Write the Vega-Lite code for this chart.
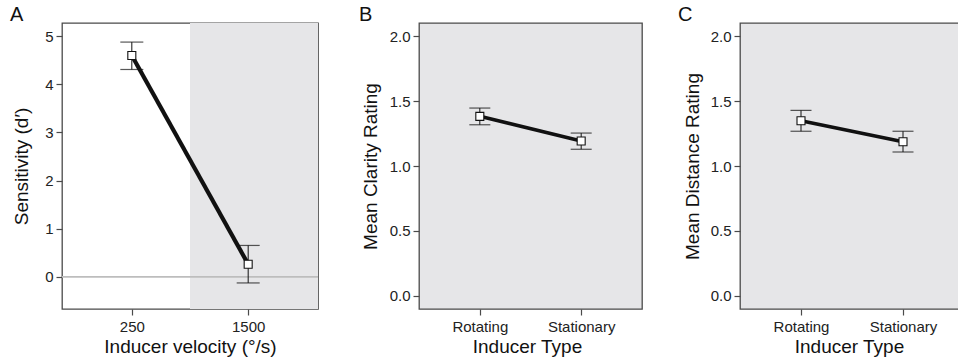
{
  "$schema": "https://vega.github.io/schema/vega-lite/v6.json",
  "padding": {"left": 9, "top": 4, "right": 0, "bottom": 0},
  "background": "white",
  "bounds": "flush",
  "spacing": 101,
  "config": {
    "font": "Liberation Sans",
    "view": {"stroke": "#4a4a4a", "strokeWidth": 1.3},
    "axis": {
      "grid": false,
      "domain": false,
      "tickColor": "#4a4a4a",
      "tickWidth": 1.2,
      "labelFont": "Liberation Sans",
      "labelFontSize": 15,
      "labelColor": "#222222",
      "titleFont": "Liberation Sans",
      "titleFontSize": 19,
      "titleFontWeight": "normal",
      "titleColor": "#111111"
    },
    "axisX": {"labelAngle": 0, "titlePadding": 3, "tickSize": 6, "labelPadding": 4},
    "axisY": {"tickSize": 6, "labelPadding": 3},
    "title": {"fontSize": 20, "fontWeight": "normal", "anchor": "start", "frame": "group", "color": "#111111", "font": "Liberation Sans"}
  },
  "datasets": {
    "a": [
      {"velocity": "250", "dprime": 4.6, "lo": 4.31, "hi": 4.88},
      {"velocity": "1500", "dprime": 0.26, "lo": -0.13, "hi": 0.65}
    ],
    "b": [
      {"type": "Rotating", "rating": 1.383, "lo": 1.318, "hi": 1.447},
      {"type": "Stationary", "rating": 1.193, "lo": 1.129, "hi": 1.254}
    ],
    "c": [
      {"type": "Rotating", "rating": 1.349, "lo": 1.268, "hi": 1.429},
      {"type": "Stationary", "rating": 1.187, "lo": 1.108, "hi": 1.268}
    ]
  },
  "hconcat": [
    {
      "width": 256,
      "height": 286,
      "title": {"text": "A", "dx": -52, "offset": -2},
      "data": {"name": "a"},
      "resolve": {"scale": {"x": "independent"}},
      "layer": [
        {
          "transform": [{"filter": "datum.velocity == '1500'"}],
          "mark": {"type": "rect", "color": "#e6e6e8"},
          "encoding": {
            "x": {"field": "velocity", "type": "nominal", "axis": null,
                  "scale": {"type": "band", "domain": ["250", "1500"], "paddingInner": 0, "paddingOuter": 0}}
          }
        },
        {
          "encoding": {
            "x": {"field": "velocity", "type": "ordinal",
                  "scale": {"type": "point", "domain": ["250", "1500"], "padding": 0.6},
                  "axis": {"title": "Inducer velocity (°/s)"}}
          },
          "layer": [
            {
              "mark": {"type": "rule", "color": "#bdbdbd", "strokeWidth": 1.6},
              "encoding": {"x": null, "y": {"datum": 0, "type": "quantitative"}}
            },
            {
              "mark": {"type": "line", "color": "#111111", "strokeWidth": 4.2},
              "encoding": {
                "y": {"field": "dprime", "type": "quantitative",
                      "scale": {"domain": [-0.672, 5.277], "nice": false, "zero": false},
                      "axis": {"values": [0, 1, 2, 3, 4, 5], "title": "Sensitivity (d′)", "titlePadding": 13}}
              }
            },
            {
              "mark": {"type": "rule", "color": "#111111", "strokeWidth": 1},
              "encoding": {"y": {"field": "lo", "type": "quantitative"}, "y2": {"field": "hi"}}
            },
            {
              "mark": {"type": "tick", "color": "#111111", "thickness": 1.2, "size": 23, "orient": "horizontal"},
              "encoding": {"y": {"field": "lo", "type": "quantitative"}}
            },
            {
              "mark": {"type": "tick", "color": "#111111", "thickness": 1.2, "size": 23, "orient": "horizontal"},
              "encoding": {"y": {"field": "hi", "type": "quantitative"}}
            },
            {
              "mark": {"type": "point", "shape": "square", "filled": true, "fill": "white", "stroke": "#111111", "strokeWidth": 1.1, "size": 64, "opacity": 1},
              "encoding": {"y": {"field": "dprime", "type": "quantitative"}}
            }
          ]
        }
      ]
    },
    {
      "bounds": "flush",
      "spacing": 98,
      "hconcat": [
        {
          "width": 223,
          "height": 286,
          "view": {"fill": "#e6e6e8"},
          "title": {"text": "B", "dx": -60, "offset": -2},
          "data": {"name": "b"},
          "encoding": {
            "x": {"field": "type", "type": "ordinal",
                  "scale": {"type": "point", "domain": ["Rotating", "Stationary"], "padding": 0.6},
                  "axis": {"title": "Inducer Type", "titleX": 108}}
          },
          "layer": [
            {
              "mark": {"type": "line", "color": "#111111", "strokeWidth": 3.6},
              "encoding": {
                "y": {"field": "rating", "type": "quantitative",
                      "scale": {"domain": [-0.103, 2.103], "nice": false, "zero": false},
                      "axis": {"values": [0, 0.5, 1, 1.5, 2], "format": ".1f", "title": "Mean Clarity Rating", "titlePadding": 9}}
              }
            },
            {
              "mark": {"type": "rule", "color": "#111111", "strokeWidth": 1},
              "encoding": {"y": {"field": "lo", "type": "quantitative"}, "y2": {"field": "hi"}}
            },
            {
              "mark": {"type": "tick", "color": "#111111", "thickness": 1.2, "size": 21, "orient": "horizontal"},
              "encoding": {"y": {"field": "lo", "type": "quantitative"}}
            },
            {
              "mark": {"type": "tick", "color": "#111111", "thickness": 1.2, "size": 21, "orient": "horizontal"},
              "encoding": {"y": {"field": "hi", "type": "quantitative"}}
            },
            {
              "mark": {"type": "point", "shape": "square", "filled": true, "fill": "white", "stroke": "#111111", "strokeWidth": 1.1, "size": 64, "opacity": 1},
              "encoding": {"y": {"field": "rating", "type": "quantitative"}}
            }
          ]
        },
        {
          "width": 219,
          "height": 286,
          "view": {"fill": "#e6e6e8"},
          "title": {"text": "C", "dx": -62, "offset": -2},
          "data": {"name": "c"},
          "encoding": {
            "x": {"field": "type", "type": "ordinal",
                  "scale": {"type": "point", "domain": ["Rotating", "Stationary"], "range": [61, 163], "padding": 0},
                  "axis": {"title": "Inducer Type", "titleX": 109}}
          },
          "layer": [
            {
              "mark": {"type": "line", "color": "#111111", "strokeWidth": 3.6},
              "encoding": {
                "y": {"field": "rating", "type": "quantitative",
                      "scale": {"domain": [-0.103, 2.103], "nice": false, "zero": false},
                      "axis": {"values": [0, 0.5, 1, 1.5, 2], "format": ".1f", "title": "Mean Distance Rating", "titlePadding": 8}}
              }
            },
            {
              "mark": {"type": "rule", "color": "#111111", "strokeWidth": 1},
              "encoding": {"y": {"field": "lo", "type": "quantitative"}, "y2": {"field": "hi"}}
            },
            {
              "mark": {"type": "tick", "color": "#111111", "thickness": 1.2, "size": 21, "orient": "horizontal"},
              "encoding": {"y": {"field": "lo", "type": "quantitative"}}
            },
            {
              "mark": {"type": "tick", "color": "#111111", "thickness": 1.2, "size": 21, "orient": "horizontal"},
              "encoding": {"y": {"field": "hi", "type": "quantitative"}}
            },
            {
              "mark": {"type": "point", "shape": "square", "filled": true, "fill": "white", "stroke": "#111111", "strokeWidth": 1.1, "size": 64, "opacity": 1},
              "encoding": {"y": {"field": "rating", "type": "quantitative"}}
            }
          ]
        }
      ]
    }
  ]
}
